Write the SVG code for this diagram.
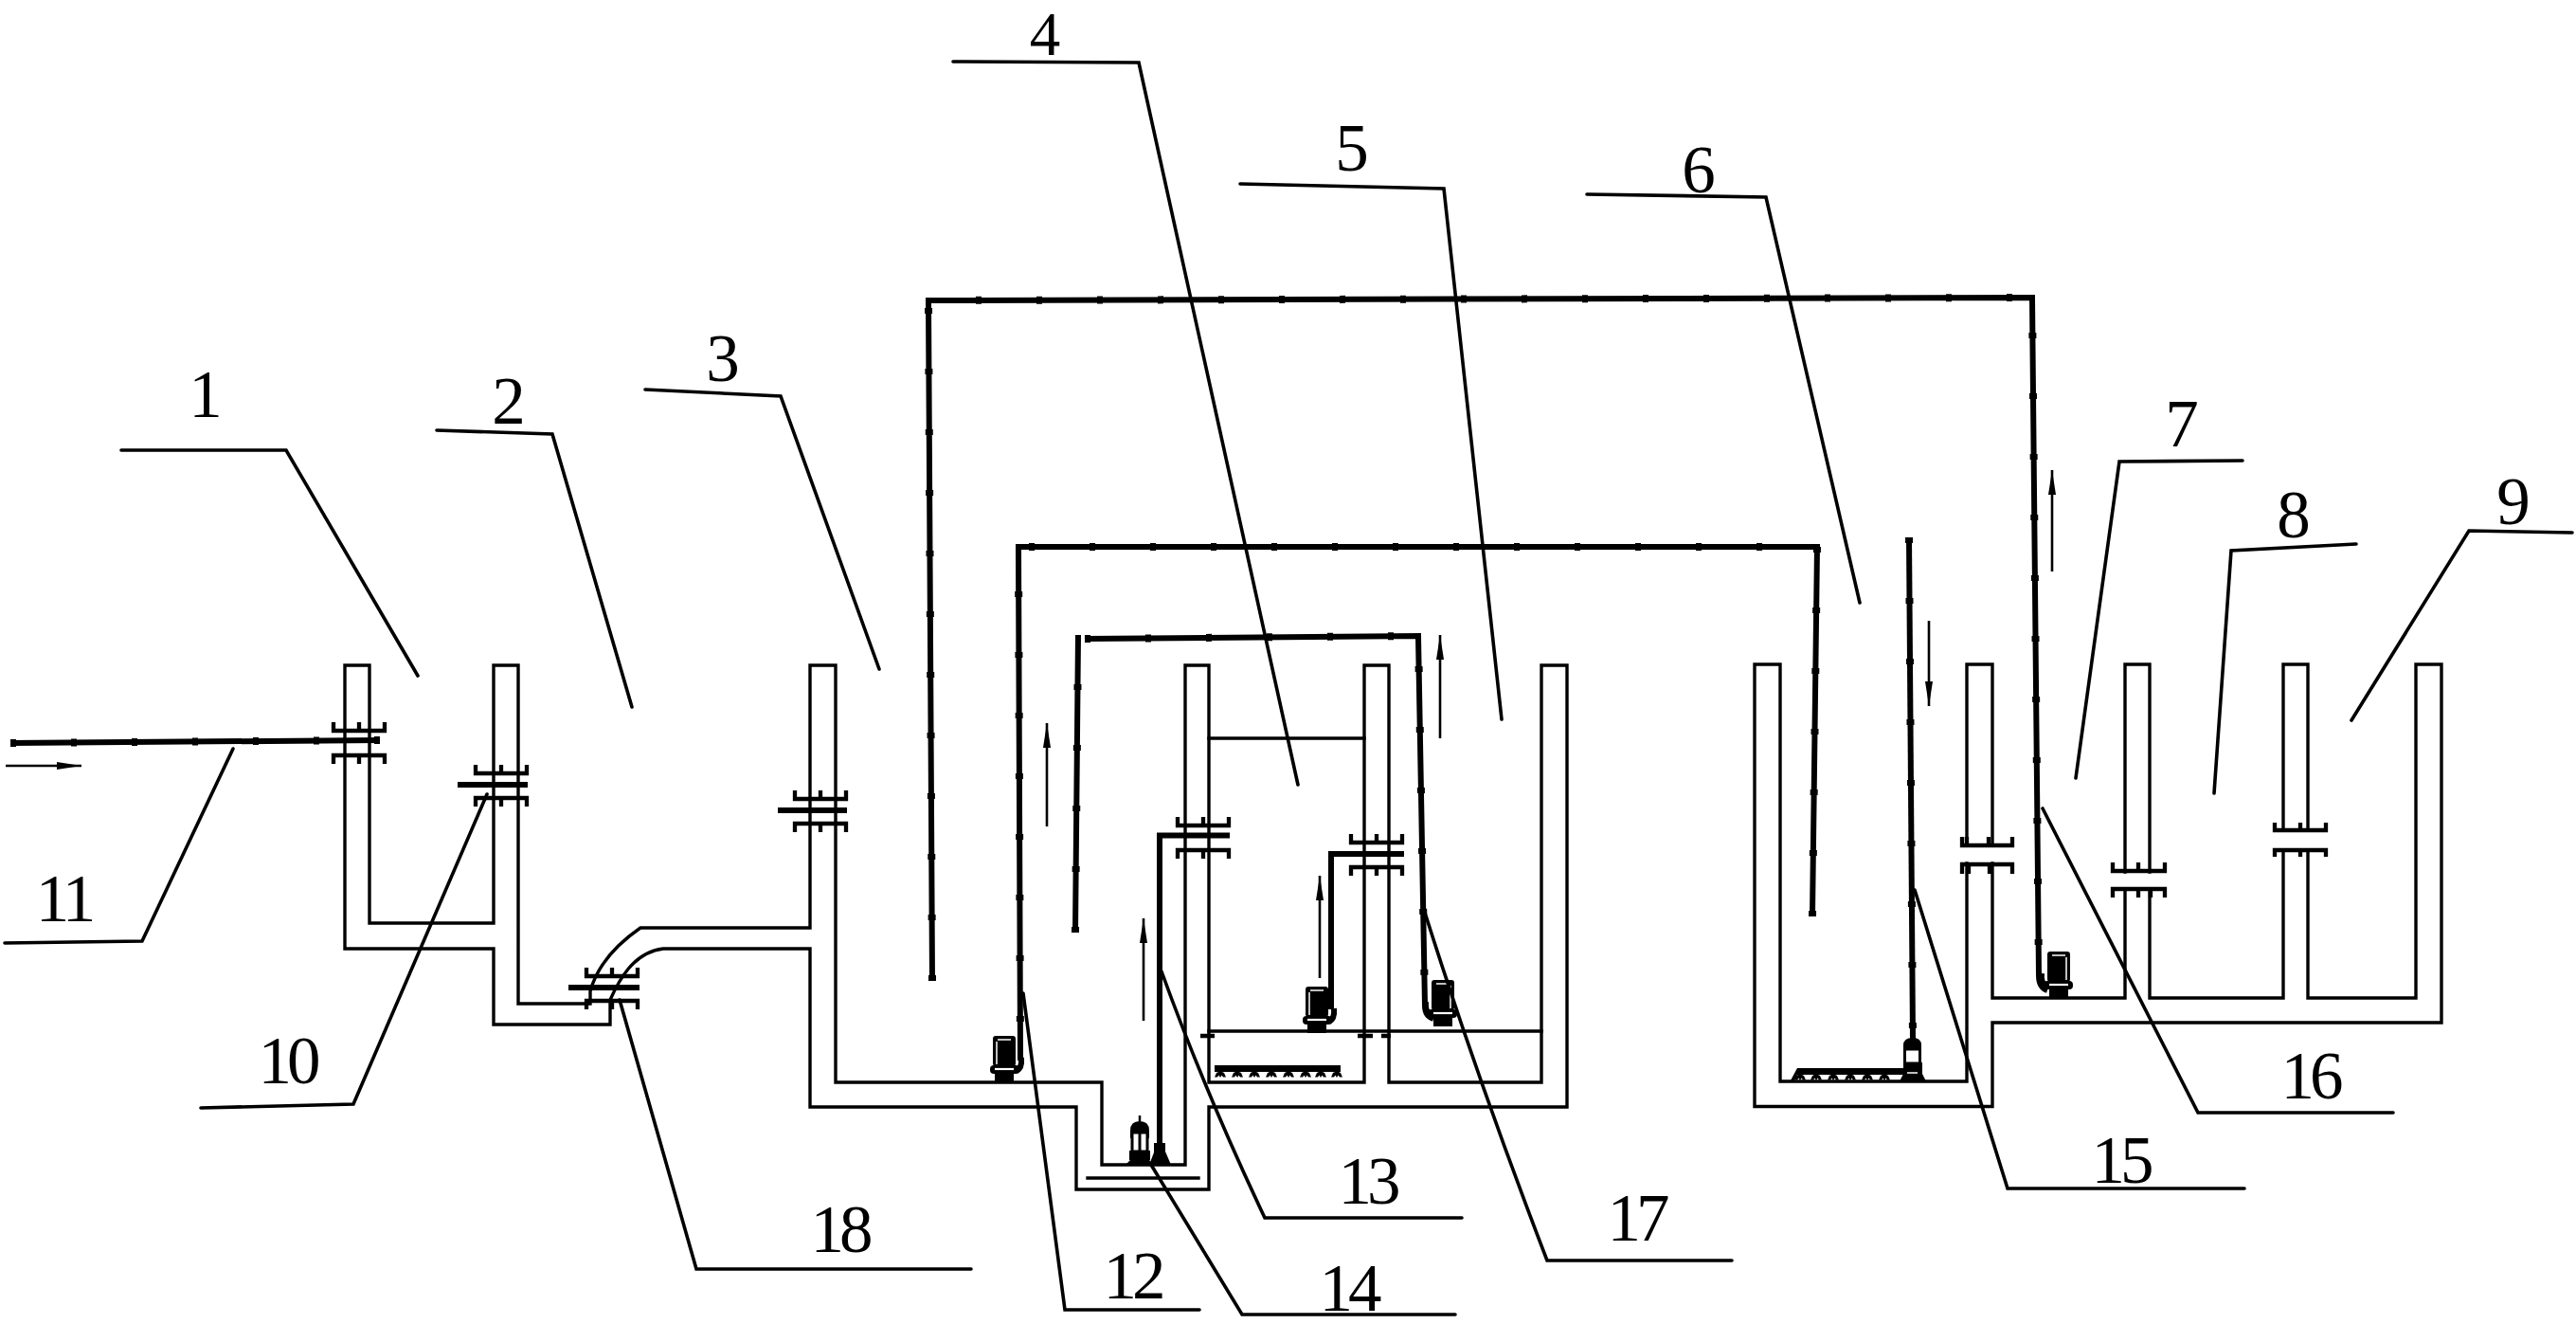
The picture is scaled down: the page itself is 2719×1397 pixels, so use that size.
<svg xmlns="http://www.w3.org/2000/svg" xmlns:xlink="http://www.w3.org/1999/xlink" width="2719" height="1397" viewBox="0 0 2719 1397">
<style>
.w{fill:none;stroke:#000;stroke-width:3.400;stroke-linecap:square;stroke-linejoin:miter}
.f{fill:none;stroke:#000;stroke-width:4.300;stroke-linecap:butt}
.fp{fill:none;stroke:#000;stroke-width:6;stroke-linecap:butt}
.p{fill:none;stroke:#000;stroke-width:6;stroke-linejoin:miter;stroke-linecap:butt}
.b{fill:none;stroke:#000;stroke-width:8;stroke-dasharray:6 58;stroke-linecap:butt}
.l{fill:none;stroke:#000;stroke-width:3.600;stroke-linecap:round;stroke-linejoin:miter}
.a{fill:none;stroke:#000;stroke-width:2.600}
.ah{fill:#000}
text{font-family:"Liberation Serif","Times New Roman",serif;font-size:71px;fill:#000;text-anchor:middle}
.d{letter-spacing:-5px}
</style>
<defs>
<g id="flange">
<path class="f" d="M-27-22V-13H27V-22M0-22V-13M-27 22V13H27V22M0 22V13"/>
</g>
<g id="pumpS">
<rect x="-12" y="-49" width="24" height="32" rx="3" fill="#000"/>
<path d="M-7-45H7" stroke="#fff" stroke-width="1.500"/>
<path d="M-8-43V-19" stroke="#fff" stroke-width="1.500"/>
<rect x="-15" y="-18" width="31" height="9" rx="4" fill="#000"/>
<path d="M-10-14H10" stroke="#fff" stroke-width="2.200"/>
<path d="M-10-10H10V0H-10Z" fill="#000"/>
<path d="M13-12Q19-15 18-26" fill="none" stroke="#000" stroke-width="6"/>
</g>
<g id="pumpV">
<path d="M0-52V-44" stroke="#000" stroke-width="2.500"/>
<path d="M-10-28V-36Q-10-46 0-46Q10-46 10-36V-28" fill="#000"/>
<rect x="-8" y="-34" width="16" height="20" fill="#fff" stroke="#000" stroke-width="3"/>
<path d="M0-34V-14" stroke="#000" stroke-width="3"/>
<rect x="-11" y="-15" width="22" height="10" fill="#000"/>
<path d="M-15 0L-10-5H10L15 0Z" fill="#000"/>
</g>
<g id="blob">
<path d="M-6 5.500L-4 1L-2 0H2L4 1L6 5.500H3L1.500 3.500L0 6L-1.500 3.500L-3 5.500Z" fill="#000"/>
</g>
<marker id="ah" viewBox="0 0 26 8" refX="26" refY="4" markerWidth="26" markerHeight="8" markerUnits="userSpaceOnUse" orient="auto"><path class="ah" d="M0 0L26 4L0 8Z"/></marker>
</defs>

<g id="tanks">
<path id="tank-1-5-walls" class="w" d="M364 702V1001H521V1081H644V1055C653 1035 668 1005 700 1001H855V1168H1136V1255H1276V1168H1654V702H1627V1142H1466V702H1440V1142H1276V702H1251V1229H1163V1142H882V702H855V979H676C650 997 630 1020 623 1046V1059H547V702H521V974H390V702Z"/>
<path id="tank-4-level" class="w" d="M1276 779H1440M1276 1088H1627"/>
<path class="w" d="M1148 1243H1265"/>
<path id="tank-6-9-walls" class="w" d="M2076 892V701H2103V892M2076 911V1141H1879V701H1852V1167.500H2103V1079H2577V701H2550V1053H2436V897M2410 897V1053H2269V938M2243 938V1053H2103V911M2243 920V701H2269V920M2410 876V701H2436V876"/>
<path class="f" d="M1267 1093H1282M1433 1093H1449M1458 1093H1468"/>
</g>

<g id="flanges">
<use xlink:href="#flange" href="#flange" x="379" y="784"/>
<use xlink:href="#flange" href="#flange" x="529" y="829"/>
<use xlink:href="#flange" href="#flange" x="646" y="1043"/>
<use xlink:href="#flange" href="#flange" x="866" y="856"/>
<use xlink:href="#flange" href="#flange" x="1270" y="884"/>
<use xlink:href="#flange" href="#flange" x="1453" y="902"/>
<path class="f" d="M2071 883V892H2124V883M2076 883V892M2099 883V892M2071 922V912H2124V922M2078 922V912M2100 922V912"/>
<path class="f" d="M2230 910V919H2285V910M2257 910V919M2230 947V938H2285V947M2257 947V938M2270 947V938"/>
<path class="f" d="M2401 868V876H2455V868M2428 868V876M2401 904V897H2455V904M2428 904V897"/>
</g>

<g id="connectors">
<path class="fp" d="M11 784L401 781M483 828H557M600 1042H675M821 855H894"/>
<path id="pipe-13" class="p" d="M1298 881.500H1224V1206"/>
<path id="pipe-17" class="p" d="M1482 901H1405V1065"/>
<path id="pipe-a" class="p" d="M984 1035L980 317L2145 314L2152 1029Q2152 1042 2161 1045"/>
<path id="pipe-b" class="p" d="M1913 967L1918 577H1075L1077 1119"/>
<path id="pipe-c" class="p" d="M1135 984L1138 670M1145 674L1497 671L1504 1061Q1504 1072 1513 1075"/>
<path id="pipe-d" class="p" d="M2015 567L2019 1096"/>
<path class="b" d="M11 784L401 781M984 1035L980 317L2145 314L2152 1029M1913 967L1918 577H1075L1077 1119M1135 984L1138 670M1145 674L1497 671L1504 1061M2015 567L2019 1096"/>
</g>

<g id="arrows">
<path class="a" marker-end="url(#ah)" d="M6 808H86"/>
<path class="a" marker-end="url(#ah)" d="M1105 872V763"/>
<path class="a" marker-end="url(#ah)" d="M1207 1077V969"/>
<path class="a" marker-end="url(#ah)" d="M1393 1032V924"/>
<path class="a" marker-end="url(#ah)" d="M1520 779V670"/>
<path class="a" marker-end="url(#ah)" d="M2036 655V745"/>
<path class="a" marker-end="url(#ah)" d="M2166 603V496"/>
</g>

<g id="pump-12"><use xlink:href="#pumpS" href="#pumpS" transform="translate(1060 1142)"/></g>
<g id="pump-13"><use xlink:href="#pumpS" href="#pumpS" transform="translate(1390 1090)"/></g>
<g id="pump-17"><use xlink:href="#pumpS" href="#pumpS" transform="translate(1523 1083) scale(-1 1)"/></g>
<g id="pump-16"><use xlink:href="#pumpS" href="#pumpS" transform="translate(2173 1053) scale(-1 1)"/></g>
<g id="pump-14">
<use xlink:href="#pumpV" href="#pumpV" transform="translate(1203 1229)"/>
<path d="M1213 1229L1218 1216V1206H1230V1215L1236 1229Z" fill="#000"/>
</g>
<g id="pump-15">
<path d="M2009 1108V1103Q2009 1095 2019 1095Q2028 1095 2028 1103V1108Z" fill="#000"/>
<rect x="2010.500" y="1107" width="16" height="15" fill="#fff" stroke="#000" stroke-width="3"/>
<rect x="2009" y="1121" width="20" height="19" fill="#000"/>
<path d="M2013 1132H2024" stroke="#fff" stroke-width="1.500"/>
<path d="M2005 1141L2009 1133H2029L2033 1141Z" fill="#000"/>
</g>
<g id="diffuser-4">
<rect x="1282" y="1124" width="133" height="7" fill="#000"/>
<use xlink:href="#blob" href="#blob" x="1288" y="1131"/><use xlink:href="#blob" href="#blob" x="1306" y="1131"/><use xlink:href="#blob" href="#blob" x="1324" y="1131"/><use xlink:href="#blob" href="#blob" x="1342" y="1131"/><use xlink:href="#blob" href="#blob" x="1360" y="1131"/><use xlink:href="#blob" href="#blob" x="1378" y="1131"/><use xlink:href="#blob" href="#blob" x="1394" y="1131"/><use xlink:href="#blob" href="#blob" x="1411" y="1131"/>
</g>
<g id="diffuser-6">
<path d="M1890 1140L1897 1127H2012V1134H1897L1894 1140Z" fill="#000"/>
<use xlink:href="#blob" href="#blob" x="1900" y="1134"/><use xlink:href="#blob" href="#blob" x="1917" y="1134"/><use xlink:href="#blob" href="#blob" x="1935" y="1134"/><use xlink:href="#blob" href="#blob" x="1953" y="1134"/><use xlink:href="#blob" href="#blob" x="1971" y="1134"/><use xlink:href="#blob" href="#blob" x="1989" y="1134"/>
</g>

<g id="leaders">
<path class="l" d="M128 475L302 475L441 713"/>
<path class="l" d="M461 454L583 458L667 746"/>
<path class="l" d="M681 411L824 418L928 706"/>
<path class="l" d="M1006 65L1202 66L1370 828"/>
<path class="l" d="M1309 194L1524 199L1585 759"/>
<path class="l" d="M1675 205L1864 208L1963 636"/>
<path class="l" d="M2367 486L2237 487L2191 821"/>
<path class="l" d="M2487 574L2355 581L2337 837"/>
<path class="l" d="M2715 562L2606 560L2482 760"/>
<path class="l" d="M5 995L150 993L246 790"/>
<path class="l" d="M212 1169L373 1165L514 838"/>
<path class="l" d="M1025 1339H735L654 1055"/>
<path class="l" d="M1266 1382H1124Q1100 1200 1080 1048"/>
<path class="l" d="M1536 1387H1311L1215 1229"/>
<path class="l" d="M1543 1285H1335Q1272 1152 1226 1025"/>
<path class="l" d="M1828 1330H1633Q1560 1140 1504 963"/>
<path class="l" d="M2526 1174H2320L2156 853"/>
<path class="l" d="M2369 1254H2119L2021 939"/>
</g>

<g id="labels">
<g id="n1"><text x="217" y="440">1</text></g>
<g id="n2"><text x="537" y="447">2</text></g>
<g id="n3"><text x="763" y="402">3</text></g>
<g id="n4"><text x="1103" y="58" style="font-size:65px">4</text></g>
<g id="n5"><text x="1427" y="180">5</text></g>
<g id="n6"><text x="1793" y="203">6</text></g>
<g id="n7"><text x="2303" y="471">7</text></g>
<g id="n8"><text x="2421" y="567">8</text></g>
<g id="n9"><text x="2653" y="553">9</text></g>
<g id="n10"><text class="d" x="303" y="1143">10</text></g>
<g id="n11"><text class="d" x="67" y="972">11</text></g>
<g id="n12"><text class="d" x="1195" y="1370">12</text></g>
<g id="n13"><text class="d" x="1443" y="1270">13</text></g>
<g id="n14"><text class="d" x="1423" y="1383">14</text></g>
<g id="n15"><text class="d" x="2238" y="1248">15</text></g>
<g id="n16"><text class="d" x="2438" y="1159">16</text></g>
<g id="n17"><text class="d" x="1727" y="1309">17</text></g>
<g id="n18"><text class="d" x="886" y="1321">18</text></g>
</g>
</svg>
